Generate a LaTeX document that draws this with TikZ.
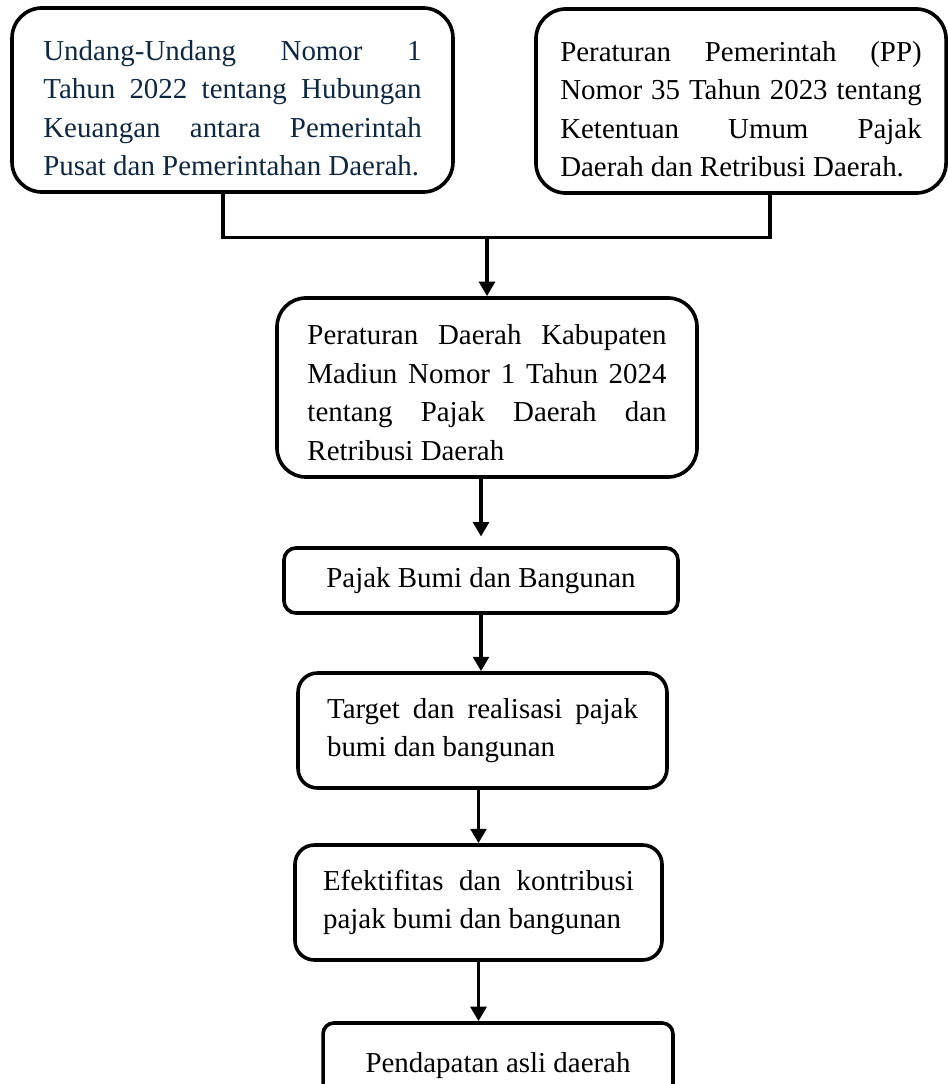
\documentclass[tikz,border=0pt]{standalone}
\usepackage{fontspec}
\setmainfont{Liberation Serif}
\usetikzlibrary{arrows.meta, positioning}
\definecolor{navytext}{HTML}{0E2841}
\hyphenpenalty=10000
\exhyphenpenalty=10000
\hbadness=10000

\begin{document}
\begin{tikzpicture}[
    x=0.415pt, y=-0.415pt,
    font=\fontsize{12pt}{16pt}\selectfont,
    line width=1.5pt,
    box/.style={draw, rounded corners=#1, align=center, inner sep=3pt},
    box/.default=8pt,
    textbox/.style={box=#1, align=justify},
    arrow/.style={-{Triangle[length=6pt, width=6.5pt]}, line width=1.5pt},
    joint/.style={line width=1.5pt}
]
    \useasboundingbox (0,0) rectangle (948,1084);

    % Nodes
    \node[textbox=12.5pt, text width=157pt, minimum width=183pt, minimum height=76.4pt, text=navytext] (uu) at (232.5,100)
        {\rule{0pt}{15pt}Undang-Undang Nomor 1\linebreak Tahun 2022 tentang Hubungan\linebreak Keuangan antara Pemerintah\linebreak Pusat dan Pemerintahan Daerah.};
    \node[textbox=12.5pt, text width=150pt, minimum width=170.2pt, minimum height=76.4pt] (pp) at (741,101)
        {\rule{0pt}{15pt}Peraturan Pemerintah (PP)\linebreak Nomor 35 Tahun 2023 tentang\linebreak Ketentuan Umum Pajak\linebreak Daerah dan Retribusi Daerah.};
    \node[textbox=12pt, text width=149pt, minimum width=174.3pt, minimum height=74.3pt] (perda) at (487,387.5)
        {\rule{0pt}{12.5pt}Peraturan Daerah Kabupaten\linebreak Madiun Nomor 1 Tahun 2024\linebreak tentang Pajak Daerah dan\linebreak Retribusi Daerah};
    \node[box=5pt, minimum width=163.5pt, minimum height=27pt] (pbb) at (481,580.5) {Pajak Bumi dan Bangunan};
    \node[textbox=8pt, text width=129pt, minimum width=153.1pt, minimum height=47.7pt] (target) at (482.5,730.5)
        {Target dan realisasi pajak\linebreak bumi dan bangunan};
    \node[textbox=8pt, text width=129pt, minimum width=152.3pt, minimum height=47.7pt] (efektif) at (478.5,902.5)
        {Efektifitas dan kontribusi\linebreak pajak bumi dan bangunan};
    \node[box=4.5pt, minimum width=145.2pt, minimum height=35.7pt] (pad) at (498,1066) {Pendapatan asli daerah};

    % Joining the two regulations
    \coordinate (join) at (487,237.5);
    \draw[joint] ([xshift=-4pt]uu.south) |- (join) -| ([xshift=12pt]pp.south);
    \draw[arrow] (join) -- (perda.north);

    % Flow downwards
    \draw[arrow, shorten >=4pt] (pbb.north |- perda.south) -- (pbb.north);
    \draw[arrow] (pbb.south) -- (pbb.south |- target.north);
    \draw[arrow] (efektif.north |- target.south) -- (efektif.north);
    \draw[arrow] (efektif.south) -- (efektif.south |- pad.north);

\end{tikzpicture}
\end{document}
